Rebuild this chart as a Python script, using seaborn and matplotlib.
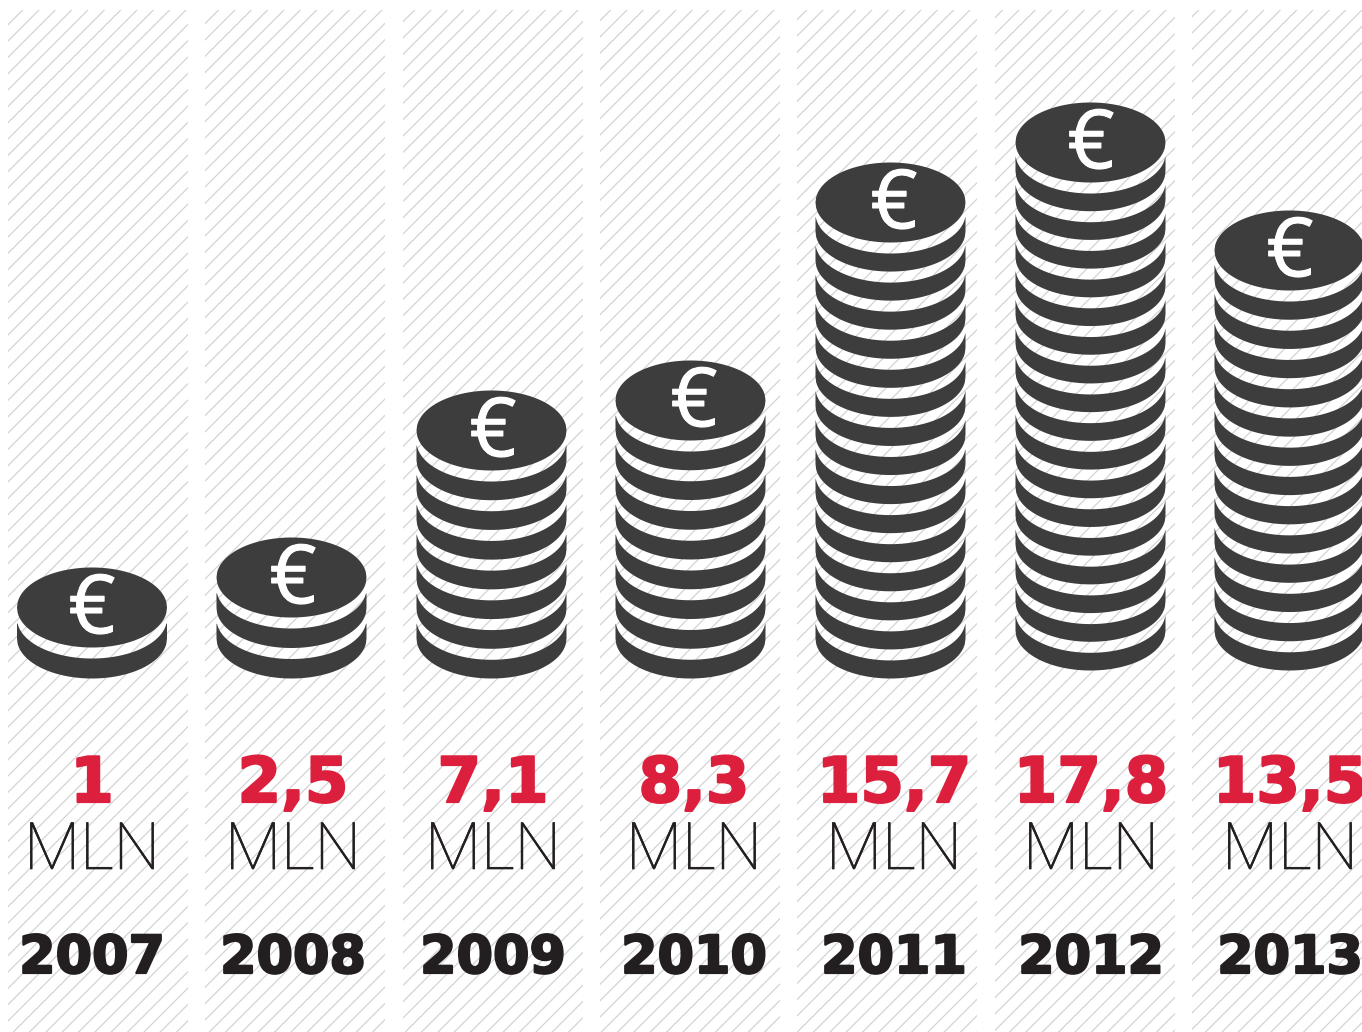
import numpy as np
import matplotlib
matplotlib.use("Agg")
import matplotlib.pyplot as plt
import matplotlib.patheffects as pe
import seaborn as sns

# data
years = [2007, 2008, 2009, 2010, 2011, 2012, 2013]
values = [1, 2.5, 7.1, 8.3, 15.7, 17.8, 13.5]
coin_counts = [2, 3, 8, 9, 16, 18, 14]
unit = "MLN"

# layout, all in pixels of the 1362x1032 picture
W, H = 1362, 1032
DPI = 98
COLUMN_FIRST, COLUMN_STEP, COLUMN_WIDTH, COLUMN_TOP = 98, 197.33, 180, 10
coin_x = [91.5, 291, 491, 690, 890, 1090, 1289]
coin_top = [607, 577, 430, 400, 202, 142, 250]
coin_base = [638, 638, 638, 638, 638, 630, 630]
label_x = [92, 293, 493, 694, 894, 1091, 1290]
COIN_A, COIN_B, COIN_GAP, COIN_SIDE = 75, 40, 11, 15

DARK = "#3d3d3d"
RED = "#dc1f3c"
BLACK = "#231f20"
HATCH = "#d3d3d3"

sns.set_theme(style="white")
plt.rcParams["hatch.linewidth"] = 0.9


def to_x(px):
    return years[0] + (px - COLUMN_FIRST) / COLUMN_STEP


def to_y(py):
    return H - py


fig = plt.figure(figsize=(W / DPI, H / DPI), dpi=DPI)
ax = fig.add_axes([0, 0, 1, 1])

# hatched columns behind the stacks
sns.barplot(x=years, y=[H - COLUMN_TOP] * len(years), native_scale=True,
            width=COLUMN_WIDTH / COLUMN_STEP, color="white", saturation=1,
            hatch="//", edgecolor=HATCH, linewidth=0, ax=ax)
ax.set_xlim(to_x(0), to_x(W))
ax.set_ylim(0, H)
ax.set_axis_off()

# one unit ellipse, scaled for every coin
t = np.linspace(-1, 1, 241)
arc = np.sqrt(1 - t ** 2)

for i, count in enumerate(coin_counts):
    x = to_x(coin_x[i]) + t * COIN_A / COLUMN_STEP
    pitch = (coin_base[i] - coin_top[i]) / (count - 1)

    # lower coins: only the band below the gap is dark, the hatch shows in the gap
    for k in range(count - 1):
        yc = to_y(coin_base[i]) + k * pitch
        lower = yc - COIN_B * arc
        upper = np.minimum(yc + pitch - COIN_GAP - COIN_B * arc, yc + COIN_SIDE)
        ax.fill_between(x, lower, upper, color=DARK, linewidth=0, zorder=3)

    # top coin
    yc = to_y(coin_top[i])
    ax.fill_between(x, yc - COIN_B * arc, yc + COIN_B * arc, color=DARK, linewidth=0, zorder=3)
    ax.text(to_x(label_x[i]), yc - 5, "€", color="white", family="Open Sans", fontsize=60,
            ha="center", va="center", zorder=4,
            path_effects=[pe.withStroke(linewidth=0.8, foreground="white")])

    # labels under the stack
    value_text = f"{values[i]:g}".replace(".", ",")
    ax.text(to_x(label_x[i]), to_y(802), value_text, color=RED, family="DejaVu Sans",
            weight="bold", fontsize=46, ha="center", va="baseline", zorder=4,
            path_effects=[pe.withStroke(linewidth=1.6, foreground=RED)])
    ax.text(to_x(label_x[i]), to_y(869), unit, color=BLACK, family="Roboto",
            weight=100, fontsize=48, ha="center", va="baseline", zorder=4,
            path_effects=[pe.withStroke(linewidth=0.5, foreground=BLACK)])
    ax.text(to_x(label_x[i]), to_y(973), str(years[i]), color=BLACK, family="DejaVu Sans",
            weight="bold", fontsize=38.5, ha="center", va="baseline", zorder=4,
            path_effects=[pe.withStroke(linewidth=1.6, foreground=BLACK)])

fig.savefig("out.png", dpi=DPI)
